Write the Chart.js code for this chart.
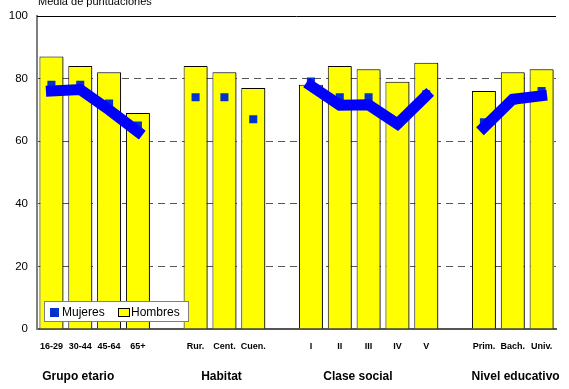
<!DOCTYPE html>
<html>
<head>
<meta charset="utf-8">
<script src="https://cdn.jsdelivr.net/npm/chart.js@4"></script>
<style>
html,body{margin:0;padding:0;background:#fff;}
#wrap{width:569px;height:389px;position:relative;}
</style>
</head>
<body>
<div id="wrap"><canvas id="chart"></canvas></div>
<script>
const labels=['16-29','30-44','45-64','65+','','Rur.','Cent.','Cuen.','','I','II','III','IV','V','','Prim.','Bach.','Univ.'];
const hombres=[87,84,82,69,null,84,82,77,null,78,84,83,79,85,null,76,82,83];
const mujeres=[78,78,72,65,null,74,74,67,null,79,74,74,65.5,75,null,66,73,76];
const tendencia=[76,76.5,70,63,null,null,null,null,null,77.7,71.5,71.6,65.5,74.5,null,64.4,73.4,74.5];
const groupNames=['Grupo etario','Habitat','Clase social','Nivel educativo'];
const yTicks=[0,20,40,60,80,100];
const yTitle='Media de puntuaciones';

const FONT='"Liberation Sans", Arial, sans-serif';

// gray drop shadow under the yellow bars
const barShadow={id:'barShadow',
  beforeDatasetDraw(chart,args){if(chart.data.datasets[args.index].type!=='bar')return;const c=chart.ctx;c.save();c.shadowColor='rgba(0,0,0,0.5)';c.shadowOffsetX=2;c.shadowOffsetY=1;c.shadowBlur=0;},
  afterDatasetDraw(chart,args){if(chart.data.datasets[args.index].type!=='bar')return;chart.ctx.restore();}
};

// top line, title, group names and the boxed legend
const extras={id:'extras',
  beforeDatasetsDraw(chart){
    const {ctx,chartArea:a,scales:{y}}=chart;const yy=Math.round(y.getPixelForValue(100));
    ctx.save();ctx.strokeStyle='#000';ctx.lineWidth=1;ctx.beginPath();ctx.moveTo(a.left,yy+0.5);ctx.lineTo(a.right,yy+0.5);ctx.stroke();ctx.restore();
  },
  afterDraw(chart){
    const {ctx,scales:{x}}=chart;
    ctx.save();
    ctx.fillStyle='#000';ctx.font='11px '+FONT;ctx.textAlign='left';ctx.textBaseline='alphabetic';
    ctx.fillText(yTitle,38,5);
    ctx.font='bold 12px '+FONT;ctx.textAlign='center';ctx.textBaseline='middle';
    const pos=[0.93,5.9,10.63,16.1];
    groupNames.forEach((g,i)=>ctx.fillText(g,x.getPixelForValue(pos[i]),377));
    // legend
    const ds=chart.data.datasets;
    ctx.fillStyle='#fff';ctx.fillRect(44,301,144,20);
    ctx.strokeStyle='#808080';ctx.lineWidth=1;ctx.strokeRect(44.5,301.5,144,20);
    ctx.fillStyle=ds[1].backgroundColor;ctx.fillRect(50,308,9,9);
    ctx.fillStyle=ds[2].backgroundColor;ctx.fillRect(118,308,12,9);
    ctx.strokeStyle='#000';ctx.strokeRect(118.5,308.5,11,8);
    ctx.fillStyle='#000';ctx.font='12px '+FONT;ctx.textAlign='left';ctx.textBaseline='middle';
    ctx.fillText(ds[1].label,62,312.5);ctx.fillText(ds[2].label,131,312.5);
    ctx.restore();
  }
};

new Chart(document.getElementById('chart'),{
  data:{labels,datasets:[
    {type:'line',label:'Tendencia',data:tendencia,borderColor:'#0000ff',borderWidth:11,borderCapStyle:'square',borderJoinStyle:'miter',pointRadius:0,tension:0,spanGaps:false,order:0},
    {type:'line',label:'Mujeres',data:mujeres,showLine:false,pointStyle:'rect',pointRadius:5.7,backgroundColor:'#0033cc',borderColor:'#0033cc',borderWidth:0,order:1},
    {type:'bar',label:'Hombres',data:hombres,backgroundColor:'#ffff00',borderColor:'#000',borderWidth:1,categoryPercentage:1,barPercentage:0.83,order:2}
  ]},
  options:{
    responsive:true,maintainAspectRatio:false,animation:false,
    layout:{padding:{top:8,right:13,left:0,bottom:0}},
    plugins:{legend:{display:false},tooltip:{enabled:false}},
    scales:{
      x:{grid:{display:false,drawTicks:false},border:{display:true,color:'#555',width:2},
        ticks:{color:'#000',font:{family:FONT,size:9,weight:'bold'},padding:12,maxRotation:0,autoSkip:false},
        afterFit(s){s.height=60;}},
      y:{min:0,max:100,afterBuildTicks(s){s.ticks=yTicks.map(v=>({value:v}));},
        grid:{drawTicks:false,color:c=>(c.tick.value===0||c.tick.value===100)?'rgba(0,0,0,0)':'#555',lineWidth:1},
        border:{display:true,color:'#808080',width:2,dash:[7,5]},
        ticks:{color:'#000',font:{family:FONT,size:11.5},padding:9},
        afterFit(s){s.width=37;}}
    }
  },
  plugins:[barShadow,extras]
});
</script>
</body>
</html>
